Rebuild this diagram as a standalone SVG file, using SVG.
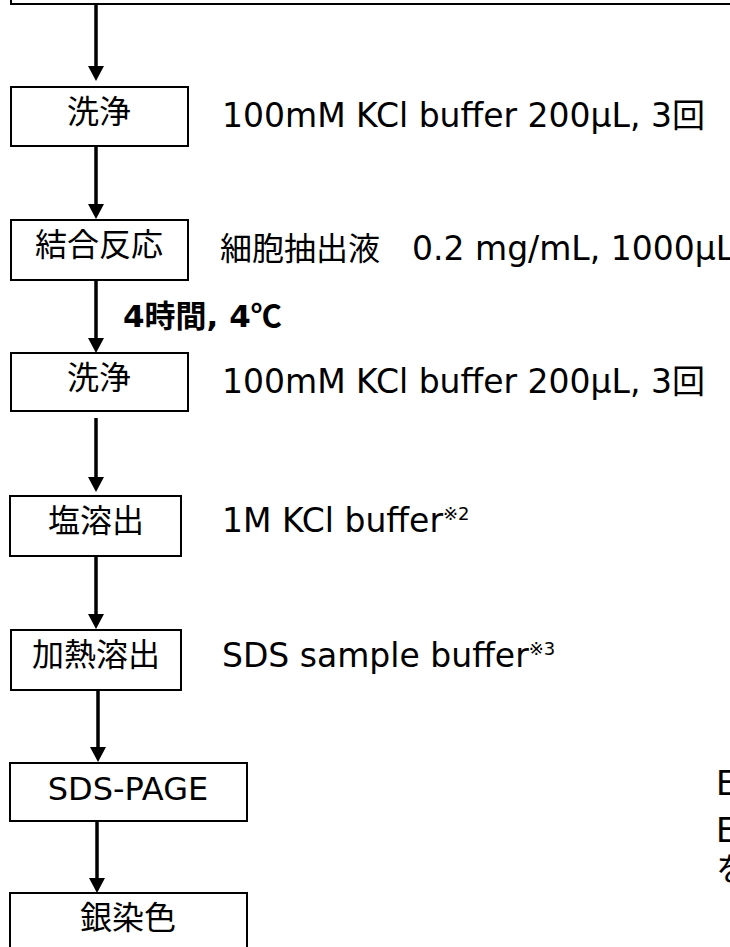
<svg xmlns="http://www.w3.org/2000/svg" width="730" height="947" viewBox="0 0 730 947">
  <style>
    .box { fill: #ffffff; stroke: #000000; stroke-width: 2; }
    .lbl { font-family: "Noto Sans CJK JP", "DejaVu Sans", sans-serif; font-size: 32px; fill: #000; text-anchor: middle; }
    .lat { font-family: "DejaVu Sans", "Noto Sans CJK JP", sans-serif; font-size: 32px; fill: #000; text-anchor: middle; }
    .note { font-family: "DejaVu Sans", "Noto Sans CJK JP", sans-serif; font-size: 33px; fill: #000; }
    .jp { font-family: "Noto Sans CJK JP", sans-serif; font-size: 32px; }
    .sup { font-size: 18px; }
    .cond { font-family: "DejaVu Sans", "Noto Sans CJK JP", sans-serif; font-size: 31px; font-weight: bold; fill: #000; }
    .conn line { stroke: #000; stroke-width: 3.5; marker-end: url(#head); }
  </style>
  <defs>
    <marker id="head" markerUnits="userSpaceOnUse" viewBox="0 0 15 16" refX="5" refY="8" markerWidth="15" markerHeight="16" orient="auto">
      <path d="M0,0 L15,8 L0,16 Z" fill="#000"/>
    </marker>
  </defs>
  <rect width="730" height="947" fill="#ffffff"/>

  <!-- upstream step (continues above the frame) -->
  <g id="top-step">
    <rect class="box" x="11" y="-20" width="740" height="24"/>
  </g>

  <g id="wash1">
    <rect class="box" x="11" y="87" width="177" height="59"/>
    <text class="lbl" x="99" y="123">洗浄</text>
  </g>
  <g id="binding">
    <rect class="box" x="11" y="220" width="177" height="60"/>
    <text class="lbl" x="99" y="256">結合反応</text>
  </g>
  <g id="wash2">
    <rect class="box" x="11" y="353" width="177" height="58"/>
    <text class="lbl" x="99" y="389">洗浄</text>
  </g>
  <g id="salt-elution">
    <rect class="box" x="10" y="496" width="171" height="60"/>
    <text class="lbl" x="96" y="532">塩溶出</text>
  </g>
  <g id="heat-elution">
    <rect class="box" x="11" y="630" width="170" height="60"/>
    <text class="lbl" x="96" y="666">加熱溶出</text>
  </g>
  <g id="sds-page">
    <rect class="box" x="10" y="763" width="237" height="58"/>
    <text class="lat" x="128" y="800">SDS-PAGE</text>
  </g>
  <g id="silver-stain">
    <rect class="box" x="10" y="893" width="237" height="70"/>
    <text class="lbl" x="128" y="929">銀染色</text>
  </g>

  <g class="conn" id="connectors">
    <line x1="96" y1="4" x2="96" y2="71"/>
    <line x1="96" y1="146" x2="96" y2="209"/>
    <line x1="96" y1="280" x2="96" y2="343"/>
    <line x1="96" y1="418" x2="96" y2="482"/>
    <line x1="96" y1="556" x2="96" y2="619"/>
    <line x1="98" y1="690" x2="98" y2="752"/>
    <line x1="97" y1="821" x2="97" y2="883"/>
  </g>

  <!-- step conditions -->
  <text class="note" x="222" y="127">100mM KCl buffer 200μL, 3回</text>
  <text class="note" x="220" y="260"><tspan class="jp">細胞抽出液　</tspan>0.2 mg/mL, 1000μL</text>
  <text class="cond" x="123" y="327">4時間, 4<tspan font-family="Noto Sans CJK JP, sans-serif">℃</tspan></text>
  <text class="note" x="222" y="393">100mM KCl buffer 200μL, 3回</text>
  <text class="note" x="222" y="532">1M KCl buffer<tspan class="sup" dy="-12">※2</tspan></text>
  <text class="note" x="222" y="667">SDS sample buffer<tspan class="sup" dy="-12">※3</tspan></text>

  <!-- side note, cut by the right edge -->
  <text class="note" x="716" y="795">E</text>
  <text class="note" x="716" y="842">E</text>
  <text class="note" x="716" y="881">を</text>
</svg>
